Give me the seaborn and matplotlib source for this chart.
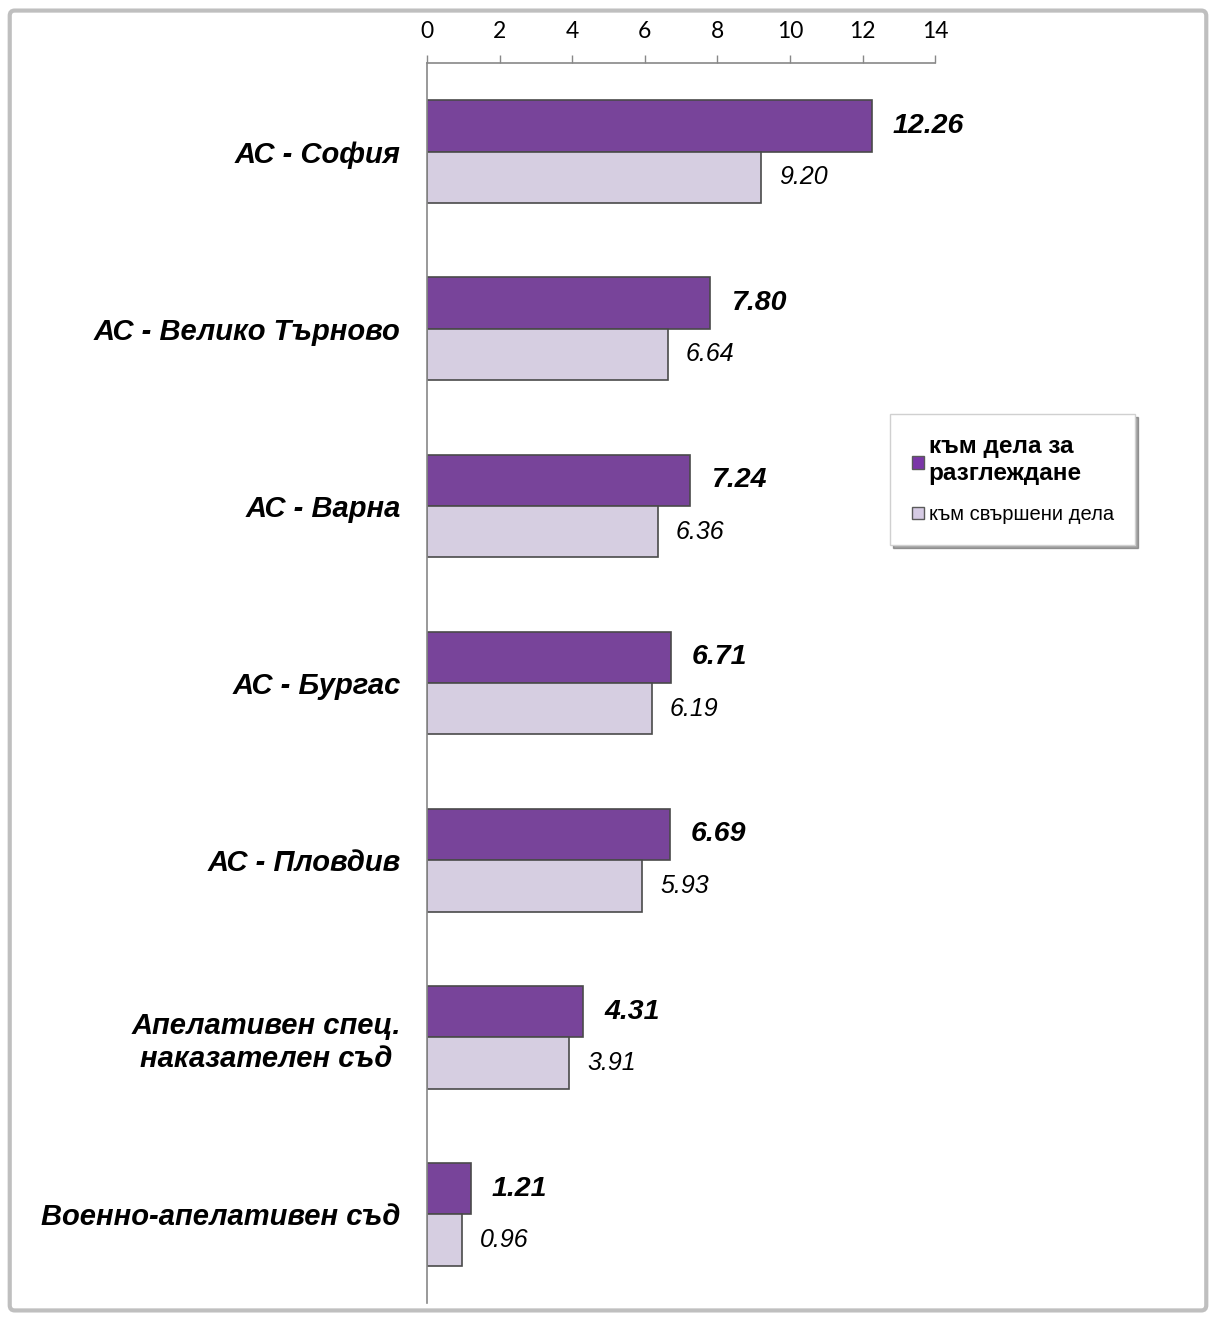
import pandas as pd
import matplotlib
matplotlib.use("Agg")
import matplotlib.pyplot as plt
import seaborn as sns
from matplotlib.patches import FancyBboxPatch, Patch
from matplotlib.ticker import FixedLocator

courts = ["АС - София", "АС - Велико Търново", "АС - Варна", "АС - Бургас",
          "АС - Пловдив", "Апелативен спец.\nнаказателен съд", "Военно-апелативен съд"]
series = ["към дела за\nразглеждане", "към свършени дела"]
pending = [12.26, 7.80, 7.24, 6.71, 6.69, 4.31, 1.21]
finished = [9.20, 6.64, 6.36, 6.19, 5.93, 3.91, 0.96]
x_ticks = [0, 2, 4, 6, 8, 10, 12, 14]

colors = ["#7B36A8", "#D6CBE4"]

df = pd.DataFrame({
    "court": courts * 2,
    "value": pending + finished,
    "series": [series[0]] * len(courts) + [series[1]] * len(courts),
})

sns.set_style("white")
plt.rcParams["font.family"] = ["Liberation Sans", "DejaVu Sans"]
plt.rcParams["text.color"] = "black"
plt.rcParams["xtick.labelcolor"] = "black"
plt.rcParams["ytick.labelcolor"] = "black"

fig = plt.figure(figsize=(12.16, 13.21), dpi=100)
ax = fig.add_axes([0.3512, 0.0136, 0.4178, 0.9387])

sns.barplot(data=df, y="court", x="value", hue="series", hue_order=series,
            order=courts, orient="h", palette=colors, width=0.58, dodge=True,
            edgecolor="#4a4a4a", linewidth=1.2, errorbar=None, legend=False, ax=ax)

ax.set_xlim(0, 14)
ax.set_ylim(6.5, -0.5)
ax.set_xlabel("")
ax.set_ylabel("")

# axis on top
ax.xaxis.tick_top()
ax.set_xticks(x_ticks)
ax.set_xticklabels([str(t) for t in x_ticks], fontsize=16.5, family=["Lato", "DejaVu Sans"])
ax.tick_params(axis="x", direction="out", length=6, width=1, color="#888888", pad=9)
for side in ["bottom", "right"]:
    ax.spines[side].set_visible(False)
for side in ["top", "left"]:
    ax.spines[side].set_visible(True)
    ax.spines[side].set_color("#888888")
    ax.spines[side].set_linewidth(1.2)

# category labels and group separators
ax.tick_params(axis="y", which="major", length=0, pad=19)
ax.yaxis.set_minor_locator(FixedLocator([i - 0.5 for i in range(len(courts) + 1)]))
ax.tick_params(axis="y", which="minor", length=8, width=1, color="#888888", direction="out")
for lbl in ax.get_yticklabels():
    lbl.set_fontsize(21)
    lbl.set_fontweight("bold")
    lbl.set_fontstyle("italic")
    lbl.set_multialignment("center")

# value labels
ax.bar_label(ax.containers[0], labels=[f"{v:.2f}" for v in pending], padding=15,
             fontsize=20.5, fontweight="bold", fontstyle="italic")
ax.bar_label(ax.containers[1], labels=[f"{v:.2f}" for v in finished], padding=13,
             fontsize=18, fontstyle="italic")
for t in ax.texts[len(courts):]:
    x, y = t.get_position()
    t.set_position((x, y + 0.02))

# legend
handles = [Patch(facecolor=c, edgecolor="#5a5a5a") for c in colors]
leg = fig.legend(handles, series, loc="upper left", bbox_to_anchor=(0.724, 0.694),
                 frameon=True, fancybox=False, shadow=True, handlelength=0.6,
                 handleheight=0.6, handletextpad=0.25, borderpad=1.05, labelspacing=1.0,
                 fontsize=14.5)
leg.get_frame().set_edgecolor("#d0d0d0")
leg.get_frame().set_linewidth(1)
texts = leg.get_texts()
texts[0].set_fontweight("bold")
texts[0].set_fontsize(17.5)

# outer frame of the chart
frame = FancyBboxPatch((0.008, 0.008), 0.984, 0.984, boxstyle="round,pad=0,rounding_size=0.004",
                       transform=fig.transFigure, facecolor="none", edgecolor="#bfbfbf",
                       linewidth=3, zorder=-1)
fig.patches.append(frame)

fig.savefig("out.png", dpi=100)
